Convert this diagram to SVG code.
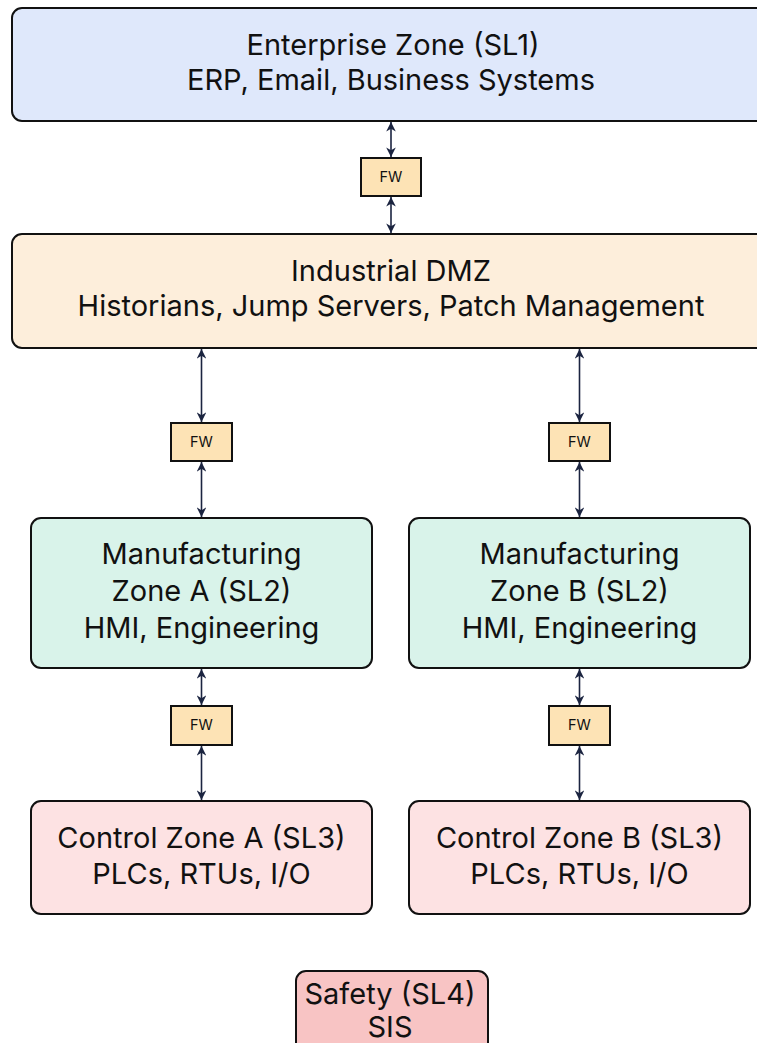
<svg xmlns="http://www.w3.org/2000/svg" width="757" height="1043" viewBox="0 0 757 1043">
<defs>
<style>
.box{stroke:#111111;stroke-width:2}
.t{font-family:Inter,"Liberation Sans",sans-serif;font-size:29px;fill:#111111;text-anchor:middle}
.fwt{font-family:Inter,"Liberation Sans",sans-serif;font-size:14.5px;fill:#111111;text-anchor:middle}
.fw{fill:#fde3b5;stroke:#111111;stroke-width:2}
.c{stroke:#1b2440;stroke-width:1.6;fill:none;marker-start:url(#ah);marker-end:url(#ah)}
</style>
<marker id="ah" viewBox="0 0 10 10" refX="10" refY="5" markerWidth="6" markerHeight="6" orient="auto-start-reverse" markerUnits="strokeWidth">
<path d="M0,0 L10,5 L0,10 L3,5 z" fill="#1b2440"/>
</marker>
</defs>
<rect width="757" height="1043" fill="#ffffff"/>
<g id="connectors">
<line class="c" x1="391" y1="122" x2="391" y2="157"/>
<line class="c" x1="391" y1="197" x2="391" y2="233"/>
<line class="c" x1="201.5" y1="349" x2="201.5" y2="422"/>
<line class="c" x1="201.5" y1="462" x2="201.5" y2="517"/>
<line class="c" x1="579.5" y1="349" x2="579.5" y2="422"/>
<line class="c" x1="579.5" y1="462" x2="579.5" y2="517"/>
<line class="c" x1="201.5" y1="669" x2="201.5" y2="705"/>
<line class="c" x1="201.5" y1="746" x2="201.5" y2="800"/>
<line class="c" x1="579.5" y1="669" x2="579.5" y2="705"/>
<line class="c" x1="579.5" y1="746" x2="579.5" y2="800"/>
</g>
<g id="enterprise">
<rect class="box" x="12" y="8" width="760" height="113" rx="10" fill="#dfe8fb"/>
<text class="t" x="393" y="55">Enterprise Zone (SL1)</text>
<text class="t" x="391" y="90">ERP, Email, Business Systems</text>
</g>
<g id="fw1">
<rect class="fw" x="361" y="158" width="60" height="38"/>
<text class="fwt" x="391" y="182">FW</text>
</g>
<g id="dmz">
<rect class="box" x="12" y="234" width="760" height="114" rx="10" fill="#fdeedb"/>
<text class="t" x="391" y="281">Industrial DMZ</text>
<text class="t" x="391" y="316">Historians, Jump Servers, Patch Management</text>
</g>
<g id="fw2a">
<rect class="fw" x="171" y="423" width="61" height="38"/>
<text class="fwt" x="201.5" y="447">FW</text>
</g>
<g id="fw2b">
<rect class="fw" x="549" y="423" width="61" height="38"/>
<text class="fwt" x="579.5" y="447">FW</text>
</g>
<g id="mfgA">
<rect class="box" x="31" y="518" width="341" height="150" rx="10" fill="#d9f3ea"/>
<text class="t" x="201.5" y="564">Manufacturing</text>
<text class="t" x="201.5" y="601">Zone A (SL2)</text>
<text class="t" x="201.5" y="638">HMI, Engineering</text>
</g>
<g id="mfgB">
<rect class="box" x="409" y="518" width="341" height="150" rx="10" fill="#d9f3ea"/>
<text class="t" x="579.5" y="564">Manufacturing</text>
<text class="t" x="579.5" y="601">Zone B (SL2)</text>
<text class="t" x="579.5" y="638">HMI, Engineering</text>
</g>
<g id="fw3a">
<rect class="fw" x="171" y="706" width="61" height="39"/>
<text class="fwt" x="201.5" y="730">FW</text>
</g>
<g id="fw3b">
<rect class="fw" x="549" y="706" width="61" height="39"/>
<text class="fwt" x="579.5" y="730">FW</text>
</g>
<g id="ctrlA">
<rect class="box" x="31" y="801" width="341" height="113" rx="10" fill="#fde2e3"/>
<text class="t" x="201.5" y="848">Control Zone A (SL3)</text>
<text class="t" x="201.5" y="884">PLCs, RTUs, I/O</text>
</g>
<g id="ctrlB">
<rect class="box" x="409" y="801" width="341" height="113" rx="10" fill="#fde2e3"/>
<text class="t" x="579.5" y="848">Control Zone B (SL3)</text>
<text class="t" x="579.5" y="884">PLCs, RTUs, I/O</text>
</g>
<g id="safety">
<rect class="box" x="296" y="971" width="192" height="90" rx="10" fill="#f8c4c4"/>
<text class="t" x="390" y="1004">Safety (SL4)</text>
<text class="t" x="390" y="1037">SIS</text>
</g>
</svg>
